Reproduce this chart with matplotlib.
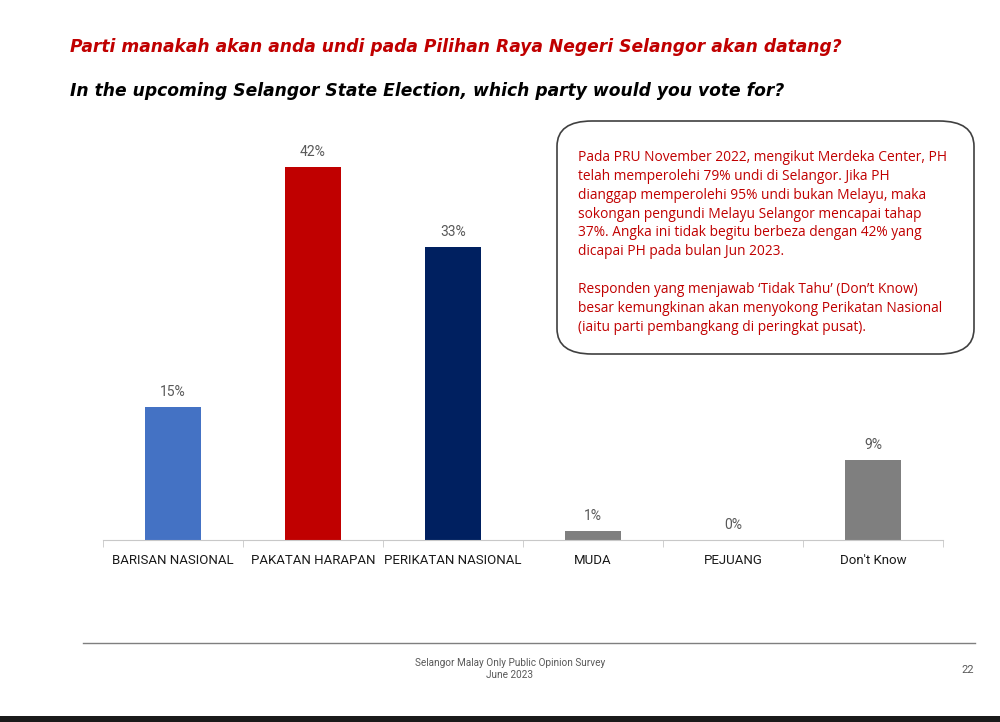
import matplotlib.pyplot as plt
from matplotlib.patches import FancyBboxPatch, Rectangle

parties = ["BARISAN NASIONAL", "PAKATAN HARAPAN", "PERIKATAN NASIONAL", "MUDA", "PEJUANG", "Don't Know"]
votes = [15, 42, 33, 1, 0, 9]
bar_colors = ["#4472c4", "#c00000", "#002060", "#7f7f7f", "#7f7f7f", "#7f7f7f"]

title_my = "Parti manakah akan anda undi pada Pilihan Raya Negeri Selangor akan datang?"
title_en = "In the upcoming Selangor State Election, which party would you vote for?"
note = ("Pada PRU November 2022, mengikut Merdeka Center, PH\n"
        "telah memperolehi 79% undi di Selangor. Jika PH\n"
        "dianggap memperolehi 95% undi bukan Melayu, maka\n"
        "sokongan pengundi Melayu Selangor mencapai tahap\n"
        "37%. Angka ini tidak begitu berbeza dengan 42% yang\n"
        "dicapai PH pada bulan Jun 2023.\n"
        "\n"
        "Responden yang menjawab \u2018Tidak Tahu\u2019 (Don\u2019t Know)\n"
        "besar kemungkinan akan menyokong Perikatan Nasional\n"
        "(iaitu parti pembangkang di peringkat pusat).")

W, H = 1000, 722
fig = plt.figure(figsize=(10, 7.22), dpi=100)


def fx(px):
    return px / W


def fy(py):
    return 1 - py / H


ax = fig.add_axes([fx(103), fy(540), fx(840), 400 / H])
x = list(range(len(parties)))
bars = ax.bar(x, votes, width=0.4, color=bar_colors)
ax.set_xlim(-0.5, len(parties) - 0.5)
ax.set_ylim(0, 45.05)
for b, v in zip(bars, votes):
    ax.text(b.get_x() + b.get_width() / 2, v + 0.9, f"{v}%", ha="center", va="bottom",
            fontsize=10, color="#595959", family="Roboto")

for s in ["top", "right", "left"]:
    ax.spines[s].set_visible(False)
ax.spines["bottom"].set_color("#c8c8c8")
ax.set_yticks([])
ax.set_xticks(x)
ax.set_xticklabels(parties, fontsize=9.5, family="Roboto", color="#1a1a1a")
ax.tick_params(axis="x", which="major", length=0, pad=10)
ax.set_xticks([i - 0.5 for i in range(len(parties) + 1)], minor=True)
ax.tick_params(axis="x", which="minor", length=5, color="#c8c8c8", direction="out")

fig.text(fx(70), fy(47), title_my, color="#c00000", fontsize=12.3, family="DejaVu Sans",
         weight="bold", style="italic", va="center")
fig.text(fx(70), fy(91), title_en, color="black", fontsize=12.3, family="DejaVu Sans",
         weight="bold", style="italic", va="center")

box = FancyBboxPatch((fx(557), fy(354)), fx(417), (354 - 121) / H,
                     boxstyle="round,pad=0,rounding_size=0.035", transform=fig.transFigure,
                     facecolor="white", edgecolor="#404040", linewidth=1.2)
fig.patches.append(box)
fig.text(fx(578), fy(150), note, color="#c00000", fontsize=9.9, family="Open Sans",
         va="top", ha="left", linespacing=1.35)

fig.add_artist(plt.Line2D([fx(83), fx(975)], [fy(643), fy(643)], color="#7f7f7f",
                          linewidth=1, transform=fig.transFigure))
fig.text(fx(510), fy(669), "Selangor Malay Only Public Opinion Survey\nJune 2023", ha="center",
         va="center", fontsize=7.2, color="#595959", family="Roboto",
         linespacing=1.3)
fig.text(fx(968), fy(670), "22", ha="center", va="center", fontsize=8, color="#595959",
         family="Roboto")

fig.patches.append(Rectangle((0, 0), 1, 6 / H, transform=fig.transFigure,
                             facecolor="#1a1a1a", edgecolor="none"))

fig.savefig("out.png", dpi=100)
